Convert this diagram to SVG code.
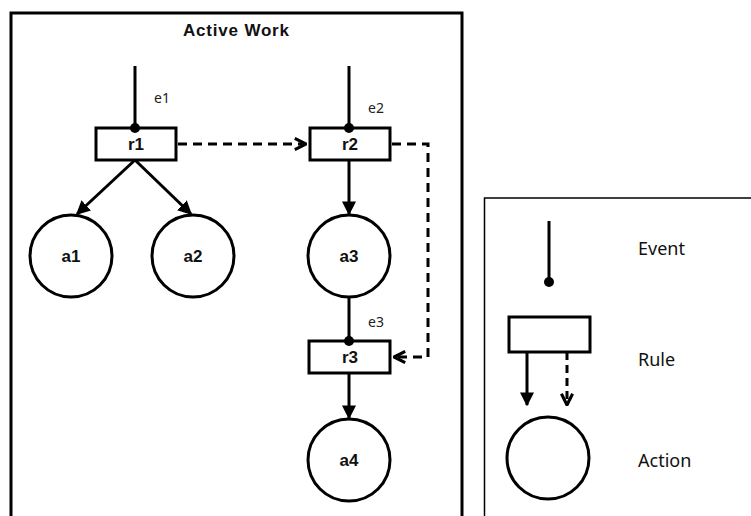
<svg xmlns="http://www.w3.org/2000/svg" width="751" height="516" viewBox="0 0 751 516">
<style>
.frame{fill:none;stroke:#000;stroke-width:3}
.leg{fill:none;stroke:#000;stroke-width:1.5}
.node{fill:#fff;stroke:#000;stroke-width:3}
.ln{fill:none;stroke:#000;stroke-width:3}
.dash{fill:none;stroke:#000;stroke-width:3;stroke-dasharray:9,6}
.lbl{font-family:"Liberation Sans",Arial,sans-serif;font-weight:bold;font-size:17px;text-anchor:middle;fill:#111}
.ttl{font-family:"Liberation Sans",Arial,sans-serif;font-weight:bold;font-size:17px;text-anchor:middle;fill:#111}
.ev{font-family:"Noto Sans","Liberation Sans",sans-serif;font-size:14px;fill:#222}
.lt{font-family:"Noto Sans","Liberation Sans",sans-serif;font-size:18px;fill:#111}
</style>
<defs>
<marker id="solid" viewBox="0 0 10 10" refX="9" refY="5" markerWidth="14" markerHeight="14" markerUnits="userSpaceOnUse" orient="auto">
<path d="M0,0 L10,5 L0,10 z" fill="#000"/>
</marker>
<marker id="open" viewBox="0 0 10 10" refX="9" refY="5" markerWidth="14" markerHeight="14" markerUnits="userSpaceOnUse" orient="auto">
<path d="M1,1 L9,5 L1,9" fill="none" stroke="#000" stroke-width="2.2"/>
</marker>
</defs>
<rect width="751" height="516" fill="#fff"/>
<g id="active-work">
<rect class="frame" x="11" y="13" width="451" height="520"/>
<text class="ttl" x="236" y="36" textLength="106">Active Work</text>
</g>
<g id="connectors">
<line class="ln" x1="135" y1="66" x2="135" y2="128"/>
<line class="ln" x1="349" y1="66" x2="349" y2="128"/>
<line class="ln" x1="135" y1="160" x2="77" y2="214" marker-end="url(#solid)"/>
<line class="ln" x1="135" y1="160" x2="191" y2="214" marker-end="url(#solid)"/>
<line class="ln" x1="349" y1="160" x2="349" y2="214" marker-end="url(#solid)"/>
<line class="ln" x1="349" y1="297" x2="349" y2="341"/>
<line class="ln" x1="349" y1="373" x2="349" y2="418" marker-end="url(#solid)"/>
<line class="dash" x1="178" y1="144" x2="306" y2="144" marker-end="url(#open)"/>
<path class="dash" d="M392,144 H428 V357 H394" marker-end="url(#open)"/>
</g>
<g id="r1"><rect class="node" x="96" y="128" width="80" height="32"/><text class="lbl" x="136" y="150">r1</text></g>
<g id="r2"><rect class="node" x="310" y="128" width="80" height="32"/><text class="lbl" x="350" y="150">r2</text></g>
<g id="r3"><rect class="node" x="309" y="341" width="81" height="32"/><text class="lbl" x="350" y="363">r3</text></g>
<g id="a1"><circle class="node" cx="71" cy="256" r="41"/><text class="lbl" x="71" y="262">a1</text></g>
<g id="a2"><circle class="node" cx="193" cy="256" r="41"/><text class="lbl" x="193" y="262">a2</text></g>
<g id="a3"><circle class="node" cx="349" cy="256" r="41"/><text class="lbl" x="349" y="262">a3</text></g>
<g id="a4"><circle class="node" cx="349" cy="460" r="41"/><text class="lbl" x="349" y="466">a4</text></g>
<g id="e1"><circle cx="135" cy="128" r="5" fill="#000"/><text class="ev" x="154" y="103">e1</text></g>
<g id="e2"><circle cx="349" cy="128" r="5" fill="#000"/><text class="ev" x="368" y="113">e2</text></g>
<g id="e3"><circle cx="349" cy="341" r="5" fill="#000"/><text class="ev" x="368" y="327">e3</text></g>
<g id="legend">
<rect class="leg" x="484.5" y="198" width="300" height="340"/>
<line class="ln" x1="549" y1="221" x2="549" y2="282"/>
<circle cx="549" cy="282" r="5" fill="#000"/>
<text class="lt" x="638" y="255">Event</text>
<rect class="node" x="509" y="317" width="81" height="35"/>
<line class="ln" x1="527" y1="352" x2="527" y2="405" marker-end="url(#solid)"/>
<line class="ln" x1="567" y1="352" x2="567" y2="405" stroke-dasharray="8,5" marker-end="url(#open)"/>
<text class="lt" x="638" y="366">Rule</text>
<circle class="node" cx="548" cy="458" r="41"/>
<text class="lt" x="638" y="467">Action</text>
</g>
</svg>
